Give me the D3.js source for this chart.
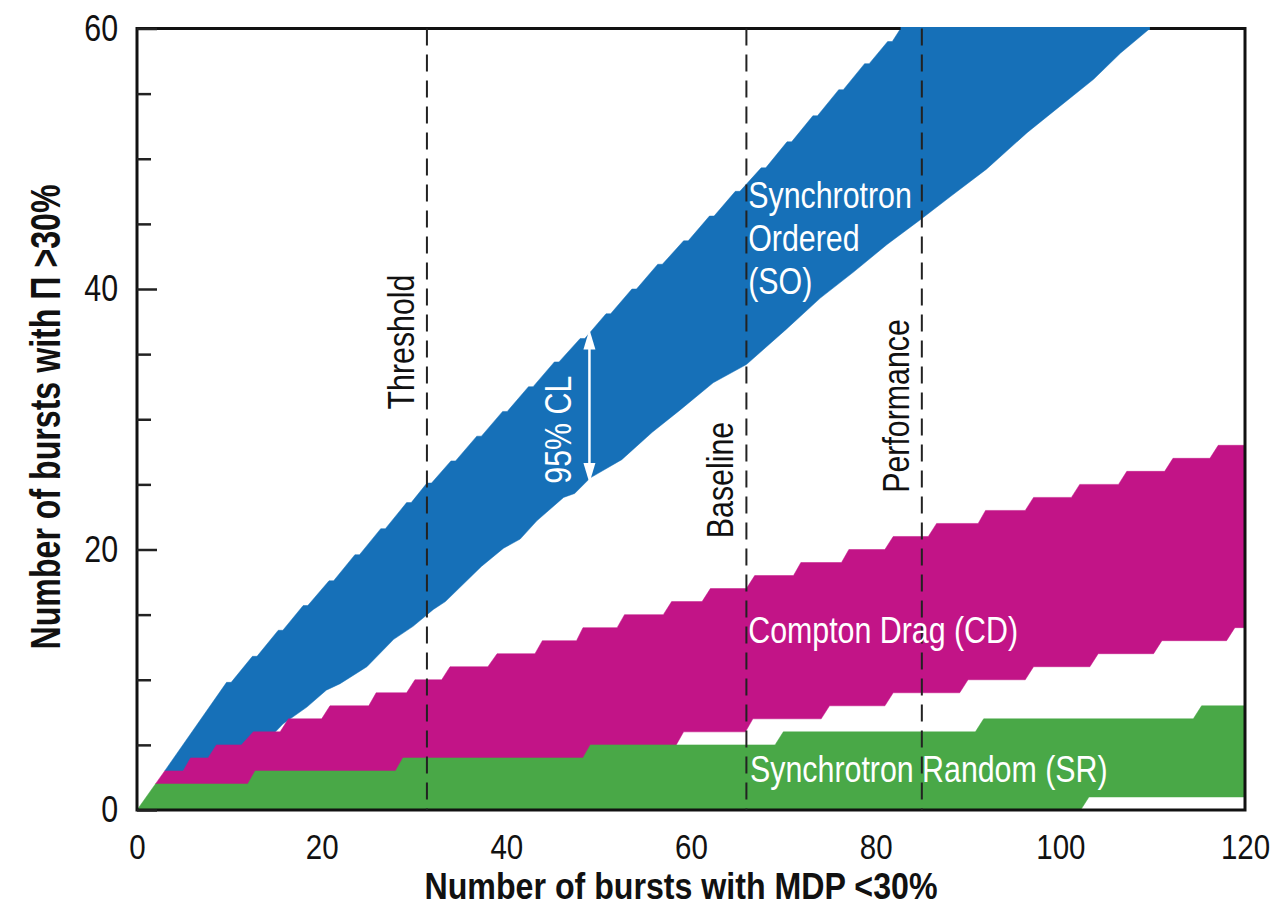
<!DOCTYPE html>
<html>
<head>
<meta charset="utf-8">
<script src="https://cdn.jsdelivr.net/npm/d3@7"></script>
<style>
  body { margin: 0; background: #fff; }
  text { font-family: "Liberation Sans", Arial, sans-serif; }
</style>
</head>
<body>
<script>
// chart data
const xTicks = [0, 20, 40, 60, 80, 100, 120];
const yTicks = [0, 20, 40, 60];
const yMinorTicks = [5, 10, 15, 25, 30, 35, 45, 50, 55];

const markerX = [31.4, 66, 85];
const markerNames = ["Threshold", "Baseline", "Performance"];

// Synchrotron Ordered (SO) 95% CL band
const soUpper = [[3, 3], [9.7, 9.8], [10.2, 9.8], [12.5, 11.8], [13, 11.8], [15.3, 13.8], [15.8, 13.8],
  [18, 15.7], [18.5, 15.7], [20.8, 17.6], [21.3, 17.6], [23.6, 19.6], [24.1, 19.6], [26.4, 21.6], [26.9, 21.6],
  [29.2, 23.6], [29.7, 23.6], [31.4, 25.1], [31.9, 25.1], [34, 26.8], [34.5, 26.8], [36.8, 28.7], [37.3, 28.7],
  [39.6, 30.6], [40.1, 30.6], [42.4, 32.5], [42.9, 32.5], [45.2, 34.4], [45.7, 34.4], [48, 36.2], [48.5, 36.2],
  [50.8, 38.1], [51.3, 38.1], [53.6, 40], [54.1, 40], [56.4, 41.9], [56.9, 41.9], [59.2, 43.7], [59.7, 43.7],
  [62, 45.6], [62.5, 45.6], [64.8, 47.5], [65.3, 47.5], [67.6, 49.3], [68.1, 49.3], [70.4, 51.3], [70.9, 51.3],
  [73.2, 53.3], [73.7, 53.3], [76, 55.3], [76.5, 55.3], [78.8, 57.3], [79.3, 57.3], [81.3, 59], [81.8, 59], [82.7, 60]];
const soLower = [[3, 3], [5, 3], [15, 6], [15.8, 6.6], [18.4, 7.9], [20.5, 9.2], [22, 9.7], [24.9, 11],
  [27.8, 13.1], [29.9, 14.1], [32.1, 15.4], [33.4, 16], [37.3, 18.7], [39.7, 20.1], [41.5, 20.8], [43.3, 22.2],
  [46.2, 24], [47.4, 24.3], [49.1, 25.5], [52.5, 26.9], [55.8, 29], [58.8, 30.7], [62.4, 32.8], [66, 34.2],
  [70.3, 36.9], [74, 39.3], [77.6, 41.3], [81.2, 43.4], [84.8, 45.3], [88.1, 47.1], [92, 49.2], [96.4, 52],
  [99.9, 54], [103.6, 56.1], [106.5, 58.1], [109.7, 60]];

// Compton Drag (CD) band
const cdUpper = [[2, 2], [3, 3], [5, 3], [5.8, 4], [7.7, 4], [8.6, 5], [11.3, 5], [12.6, 6], [15.5, 6], [16.4, 7],
  [20, 7], [20.9, 8], [25.1, 8], [25.9, 9], [29.2, 9], [30.1, 10], [33, 10], [33.9, 11], [38, 11], [39, 12],
  [43.1, 12], [43.9, 13], [47.6, 13], [48.3, 14], [52, 14], [52.8, 15], [57, 15], [57.9, 16], [61.2, 16], [62.1, 17],
  [66, 17], [66.9, 18], [71.1, 18], [71.9, 19], [76.3, 19], [77.1, 20], [81, 20], [81.9, 21], [85.7, 21], [86.6, 22],
  [91.1, 22], [91.9, 23], [96.2, 23], [97.1, 24], [101.2, 24], [102.1, 25], [106.3, 25], [107.2, 26],
  [111.3, 26], [112.2, 27], [116.2, 27], [117.1, 28], [120, 28]];
const cdLower = [[2, 2], [22, 2], [23, 3], [36, 3], [37, 4], [50, 4], [51, 5], [58.4, 5], [59.2, 6], [65.9, 6],
  [66.7, 7], [74.1, 7], [75, 8], [81, 8], [81.9, 9], [89.1, 9], [90, 10], [96.2, 10], [97.1, 11], [103.2, 11],
  [104.1, 12], [110.1, 12], [111, 13], [118, 13], [118.9, 14], [120, 14]];

// Synchrotron Random (SR) band
const srUpper = [[0, 0], [2, 2], [12, 2], [12.8, 3], [28, 3], [28.8, 4], [48.3, 4], [49.1, 5], [69.1, 5], [70, 6],
  [90.8, 6], [91.7, 7], [114.4, 7], [115.3, 8], [120, 8]];
const srLower = [[0, 0], [102.2, 0], [103.1, 1], [120, 1]];

// 95% CL arrow
const clArrowX = 49;
const clArrowY = [25.1, 36.9];

const width = 1275;
const height = 907;
const marginTop = 28.5;
const marginRight = 30;
const marginBottom = 97;
const marginLeft = 137;

const chartWidth = width - marginLeft - marginRight;
const chartHeight = height - marginTop - marginBottom;

// squeeze Liberation Sans to a condensed look
function narrow(sel, f) {
  sel.each(function () {
    const len = this.getComputedTextLength();
    d3.select(this)
      .attr("textLength", len * (f || 0.82))
      .attr("lengthAdjust", "spacingAndGlyphs");
  });
}

const svg = d3.select("body")
  .append("svg")
  .attr("width", width)
  .attr("height", height);

const xScale = d3.scaleLinear().domain([0, 120]).range([0, chartWidth]);
const yScale = d3.scaleLinear().domain([0, 60]).range([chartHeight, 0]);

const g = svg.append("g")
  .attr("transform", "translate(" + marginLeft + "," + marginTop + ")");

// bands
const line = d3.line()
  .x(d => xScale(d[0]))
  .y(d => yScale(d[1]));

const bands = [
  { upper: soUpper, lower: soLower, color: "#1670b8" },
  { upper: cdUpper, lower: cdLower, color: "#c21487" },
  { upper: srUpper, lower: srLower, color: "#49a847" }
];

bands.forEach(b => {
  const ring = b.upper.concat(b.lower.slice().reverse());
  g.append("path")
    .attr("d", line(ring) + "Z")
    .attr("fill", b.color)
    .attr("stroke", b.color)
    .attr("stroke-width", 0.5);
});

// frame
g.append("rect")
  .attr("x", 0).attr("y", 0)
  .attr("width", chartWidth).attr("height", chartHeight)
  .attr("fill", "none")
  .attr("stroke", "#111")
  .attr("stroke-width", 3);

// blue band runs over the top border
g.append("path")
  .attr("d", line([[82.7, 60], [109.7, 60]]))
  .attr("stroke", "#1670b8")
  .attr("stroke-width", 3);

// dashed marker lines
g.selectAll(".marker")
  .data(markerX)
  .enter()
  .append("line")
  .attr("x1", d => xScale(d)).attr("x2", d => xScale(d))
  .attr("y1", 0).attr("y2", chartHeight)
  .attr("stroke", "#222")
  .attr("stroke-width", 2)
  .attr("stroke-dasharray", "17,9");

const markerLabels = g.selectAll(".markerLabel")
  .data(markerX)
  .enter()
  .append("text")
  .attr("transform", (d, i) => {
    const cy = [342, 480, 406][i] - marginTop;
    return "translate(" + (xScale(d) - 13) + "," + cy + ") rotate(-90)";
  })
  .attr("text-anchor", "middle")
  .attr("font-size", "37px")
  .attr("fill", "#111")
  .text((d, i) => markerNames[i]);
narrow(markerLabels);

// y axis (ticks inside)
const yAxis = g.append("g")
  .call(d3.axisLeft(yScale).tickValues(yTicks).tickSizeInner(-20).tickSizeOuter(0).tickPadding(19));
yAxis.select(".domain").remove();
yAxis.selectAll("line").attr("stroke", "#222").attr("stroke-width", 2.5);
yAxis.selectAll("text")
  .attr("font-size", "37px")
  .attr("fill", "#111")
  .attr("font-family", "Liberation Sans, Arial, sans-serif");
narrow(yAxis.selectAll("text"));

const yMinor = g.append("g")
  .call(d3.axisLeft(yScale).tickValues(yMinorTicks).tickSizeInner(-14).tickSizeOuter(0).tickFormat(""));
yMinor.select(".domain").remove();
yMinor.selectAll("line").attr("stroke", "#222").attr("stroke-width", 2.5);

// x axis (labels squeezed by a transform so their box stays inside the page)
const xAxis = g.append("g")
  .attr("transform", "translate(0," + chartHeight + ")")
  .call(d3.axisBottom(xScale).tickValues(xTicks).tickSize(0).tickPadding(23));
xAxis.select(".domain").remove();
xAxis.selectAll("text")
  .attr("font-size", "36px")
  .attr("fill", "#111")
  .attr("font-family", "Liberation Sans, Arial, sans-serif")
  .attr("transform", "scale(0.82,1)");

// axis titles
svg.append("text")
  .attr("x", 681)
  .attr("y", 899)
  .attr("text-anchor", "middle")
  .attr("font-size", "37px")
  .attr("font-weight", "bold")
  .attr("fill", "#111")
  .attr("textLength", 513)
  .attr("lengthAdjust", "spacingAndGlyphs")
  .text("Number of bursts with MDP <30%");

svg.append("text")
  .attr("transform", "translate(60,417) rotate(-90)")
  .attr("text-anchor", "middle")
  .attr("font-size", "43px")
  .attr("font-weight", "bold")
  .attr("fill", "#111")
  .attr("textLength", 465)
  .attr("lengthAdjust", "spacingAndGlyphs")
  .text("Number of bursts with Π >30%");

// band labels
const soLines = ["Synchrotron", "Ordered", "(SO)"];
const soText = g.selectAll(".soLabel")
  .data(soLines)
  .enter()
  .append("text")
  .attr("x", xScale(66.2))
  .attr("y", (d, i) => yScale(46.2) + i * 43)
  .attr("font-size", "37px")
  .attr("fill", "#fff")
  .text(d => d);
narrow(soText);

const cdText = g.append("text")
  .attr("x", xScale(66.2))
  .attr("y", yScale(12.8))
  .attr("font-size", "37px")
  .attr("fill", "#fff")
  .text("Compton Drag (CD)");
narrow(cdText);

const srText = g.append("text")
  .attr("x", xScale(66.4))
  .attr("y", yScale(2.15))
  .attr("font-size", "37px")
  .attr("fill", "#fff")
  .text("Synchrotron Random (SR)");
narrow(srText);

// 95% CL double arrow
const ax = xScale(clArrowX);
const aLow = yScale(clArrowY[0]);
const aHigh = yScale(clArrowY[1]);
const headLen = 20;
const headHalf = 6;

g.append("line")
  .attr("x1", ax).attr("x2", ax)
  .attr("y1", aLow - headLen + 2).attr("y2", aHigh + headLen - 2)
  .attr("stroke", "#fff")
  .attr("stroke-width", 2.5);

g.append("path")
  .attr("d", "M" + ax + "," + aHigh + " L" + (ax - headHalf) + "," + (aHigh + headLen) +
    " L" + (ax + headHalf) + "," + (aHigh + headLen) + " Z")
  .attr("fill", "#fff");

g.append("path")
  .attr("d", "M" + ax + "," + aLow + " L" + (ax - headHalf) + "," + (aLow - headLen) +
    " L" + (ax + headHalf) + "," + (aLow - headLen) + " Z")
  .attr("fill", "#fff");

const clText = g.append("text")
  .attr("transform", "translate(" + (ax - 18) + "," + yScale(29.2) + ") rotate(-90)")
  .attr("text-anchor", "middle")
  .attr("font-size", "37px")
  .attr("fill", "#fff")
  .text("95% CL");
narrow(clText);
</script>
</body>
</html>
